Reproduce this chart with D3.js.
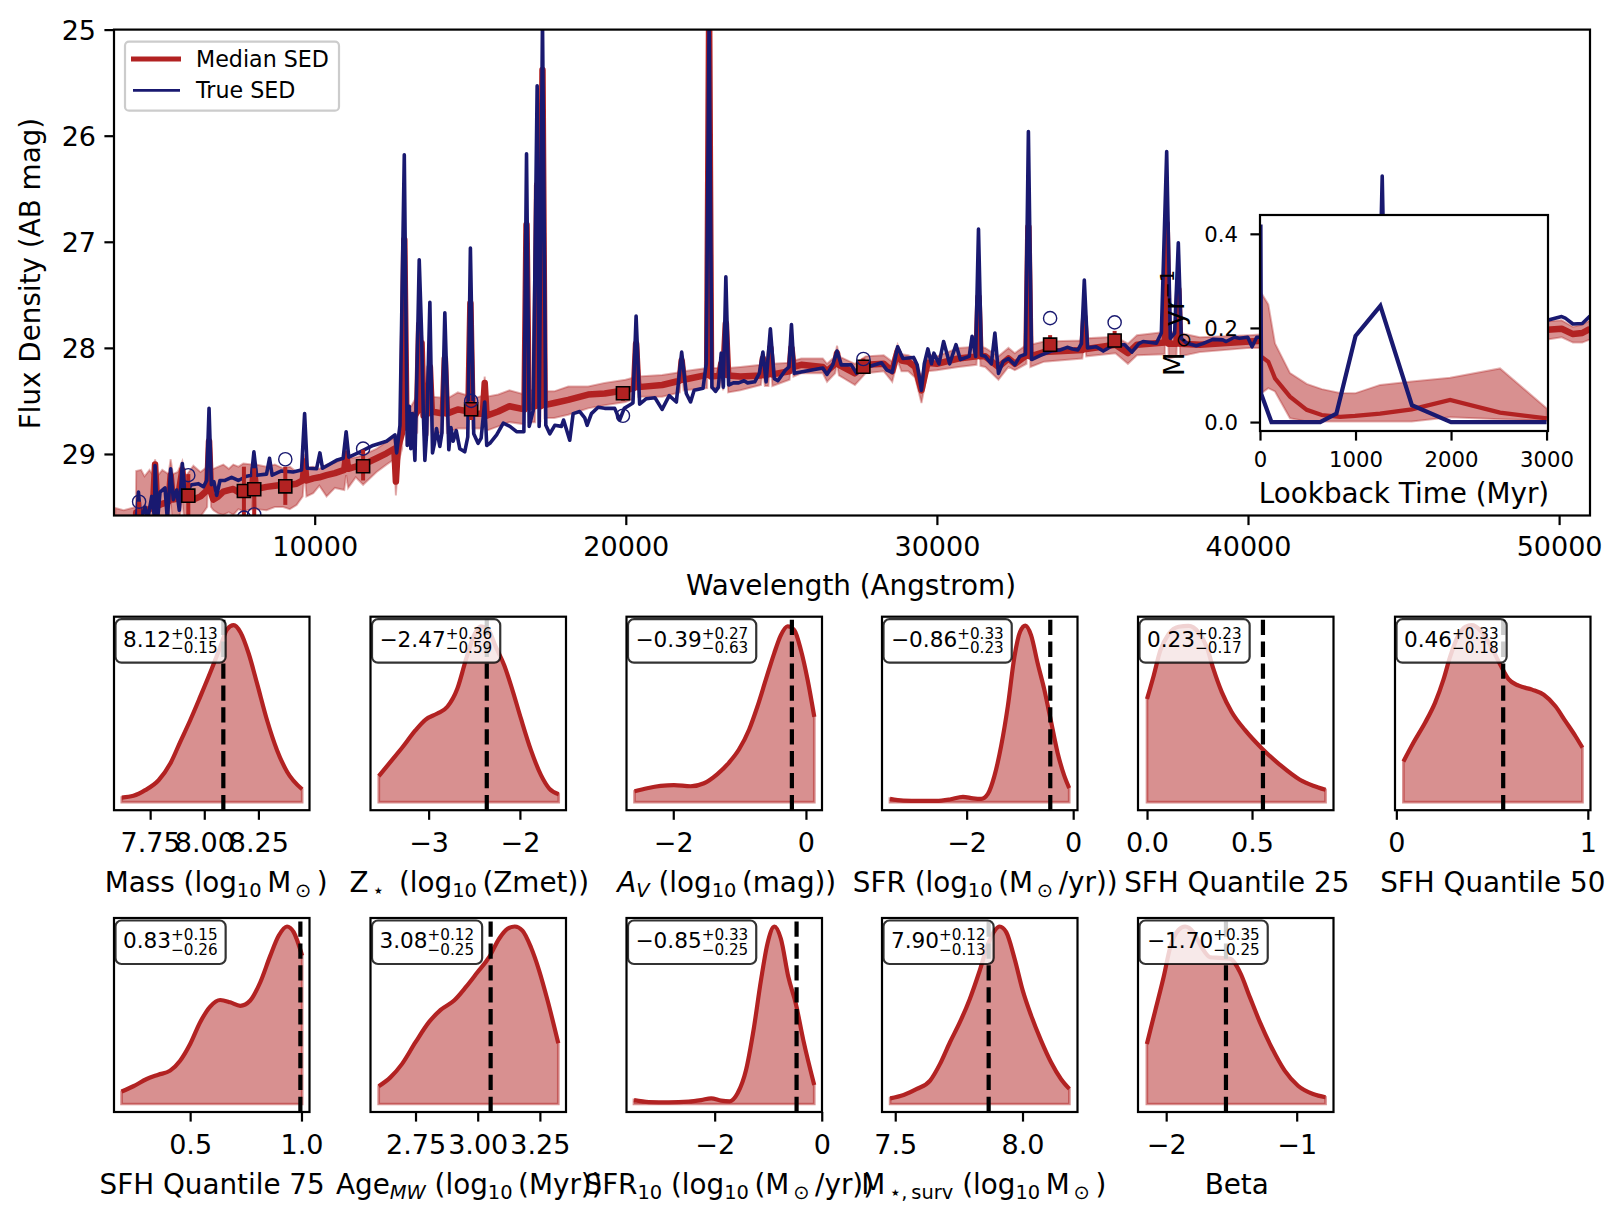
<!DOCTYPE html>
<html>
<head>
<meta charset="utf-8">
<title>SED fit</title>
<script src="https://cdn.jsdelivr.net/npm/d3@7"></script>
<style>
body { margin: 0; background: #fff; }
text { font-family: "DejaVu Sans", sans-serif; fill: #000; }
</style>
</head>
<body>
<div id="chart"></div>
<script>
// spectrum
var trueWave = [4260,4335,4410,4548,4630,4762,4850,4869,4950,5029,5189,5264,5371,5456,5563,5648,5745,5830,6044,6262,6422,6529,6604,6679,6760,6850,6956,7116,7330,7544,7811,7971,8046,8131,8452,8548,8633,8932,9306,9578,9676,9761,10060,10167,10252,10701,10915,11011,11096,11396,11876,12310,12580,12634,12741,12880,12976,13040,13090,13140,13222,13275,13360,13435,13490,13542,13600,13702,13787,13850,13916,14022,14090,14183,14311,14380,14450,14550,14663,14823,14920,15005,15112,15251,15350,15465,15530,15630,15848,16062,16275,16489,16724,16809,16895,17023,17151,17215,17322,17429,17557,17717,17931,18000,18198,18307,18521,18681,18756,18895,19109,19322,19643,19803,19950,20230,20331,20445,20651,20938,21167,21396,21625,21796,21945,22082,22197,22483,22586,22678,22769,22884,22976,23067,23136,23216,23307,23457,23628,23800,23915,24144,24292,24407,24510,24647,24773,24888,25130,25245,25325,25416,25760,26332,26469,26653,26790,26927,27248,27420,27592,27878,28221,28393,28565,28737,28908,29252,29366,29504,29595,29710,29824,29904,30066,30215,30410,30615,30753,31039,31131,31246,31337,31429,31555,31750,31864,31979,32128,32300,32505,32666,32848,32941,33043,33330,33673,33959,34188,34360,34532,34646,34738,34841,35118,35347,35691,36034,36264,36492,36627,37055,37215,37386,37503,37642,37760,37856,38037,38336,38550,38870,39191,39298,39564,39724,39991,40130,40280,40610,42000,44200,44314,44410,47000,49200,49623,50083,50200,50446,50745,50993];
var trueSED = [29.65,29.36,29.62,29.50,29.62,29.40,29.60,29.11,29.62,29.36,29.32,29.62,29.14,29.43,29.34,29.53,29.09,29.37,29.29,29.28,29.31,29.25,28.57,29.29,29.26,29.39,29.25,29.25,29.22,29.25,29.21,29.20,28.98,29.20,29.19,29.04,29.20,29.16,29.17,29.15,28.62,29.135,29.14,28.99,29.135,29.06,29.04,28.79,29.03,28.99,28.92,28.88,28.82,28.99,28.73,26.18,28.92,28.55,28.95,28.62,29.06,28.40,27.17,27.85,28.6,29.06,28.8,27.57,28.99,28.9,28.76,28.93,28.8,27.67,28.96,28.75,28.88,28.78,28.95,28.98,28.84,27.06,28.81,28.90,28.85,28.51,28.92,28.90,28.82,28.71,28.74,28.79,28.79,26.17,28.74,28.59,25.53,28.74,24.9,28.73,28.81,28.73,28.74,28.68,28.87,28.62,28.60,28.66,28.73,28.62,28.56,28.57,28.57,28.68,28.57,28.52,27.70,28.53,28.48,28.47,28.58,28.45,28.51,28.04,28.43,28.51,28.40,28.38,28.15,24.9,28.37,28.41,28.37,28.05,28.37,27.33,28.35,28.33,28.33,28.31,28.33,28.32,28.24,28.04,28.32,27.82,28.29,28.31,28.21,28.18,27.78,28.24,28.22,28.19,28.25,28.16,28.03,28.16,28.16,28.24,28.15,28.17,28.14,28.21,28.23,27.99,28.10,28.09,28.16,28.40,28.15,28.01,28.15,28.05,28.15,27.94,28.15,27.97,28.11,28.08,27.89,28.08,26.88,28.07,28.08,28.15,27.86,28.24,28.13,28.10,28.16,28.08,28.06,25.96,28.11,28.07,28.03,28.02,27.995,28.01,28.02,27.96,27.36,28.00,27.99,28.03,27.97,27.97,28.04,27.96,27.94,27.957,27.86,26.15,27.91,27.86,27.01,27.91,27.957,27.98,27.96,27.92,27.925,27.94,27.90,27.91,27.90,27.99,27.90,27.90,27.85,27.82,26.38,27.82,27.78,27.75,27.74,27.705,27.72,27.775,27.77,27.70];

var medWave = [3590,3860,4250,4262,4420,4530,4690,4800,4869,4940,5100,5300,5371,5440,5600,5745,5830,6100,6330,6545,6604,6665,6743,6900,7063,7240,7383,7550,7704,7985,8046,8115,8452,8720,8985,9200,9420,9615,9676,9735,9954,10150,10381,10650,10950,11011,11075,11320,11556,11990,12310,12560,12610,12670,12810,12880,12950,13100,13295,13360,13400,13435,13500,13640,13702,13765,14120,14183,14250,14600,14940,15005,15070,15405,15465,15525,15900,16260,16745,16809,16875,17085,17151,17255,17322,17390,17700,18150,18790,19322,19990,20265,20331,20400,21170,21735,21796,21860,22615,22678,22740,23005,23067,23130,23216,23290,23685,24345,24407,24470,24585,24647,24710,25265,25325,25390,25640,26332,26469,26730,26790,26850,27365,27706,28290,28565,28737,28860,29080,29300,29504,29700,29995,30690,31275,31337,31400,31555,31979,32300,32505,32880,32941,33005,33445,34675,34738,34800,35740,36140,36430,37325,37386,37450,37700,37760,37820,38450,40050,40610,45000,49623,50083,50446,50745,50993];
var medSED = [29.68,29.67,29.65,29.55,29.54,29.53,29.52,29.50,29.10,29.49,29.47,29.45,29.20,29.43,29.42,29.15,29.42,29.43,29.40,29.34,28.88,29.36,29.43,29.40,29.355,29.34,29.33,29.36,29.34,29.33,29.135,29.33,29.31,29.30,29.29,29.29,29.28,29.25,29.07,29.25,29.23,29.22,29.20,29.18,29.15,29.00,29.14,29.12,29.10,29.04,28.994,28.95,29.26,28.95,28.80,26.98,28.75,28.70,28.60,27.78,28.00,27.95,28.64,28.62,28.18,28.60,28.62,28.10,28.62,28.58,28.60,27.58,28.62,28.62,28.33,28.64,28.60,28.55,28.58,26.84,28.56,28.55,26.465,28.55,25.38,28.54,28.52,28.49,28.44,28.43,28.40,28.38,27.96,28.37,28.35,28.31,28.12,28.30,28.255,24.90,28.27,28.26,28.15,28.26,27.77,28.26,28.27,28.26,28.10,28.26,28.25,28.00,28.25,28.22,28.00,28.18,28.16,28.18,28.22,28.15,28.05,28.16,28.24,28.16,28.15,28.22,28.03,28.12,28.13,28.18,28.40,28.14,28.15,28.10,28.08,27.52,28.08,28.08,28.18,28.10,28.15,28.07,26.86,28.08,28.04,28.02,27.71,28.01,27.97,28.05,27.97,27.95,26.83,27.96,27.96,27.45,27.96,27.97,27.94,27.93,27.88,27.83,27.82,27.87,27.86,27.82];
var medBright = [29.51,29.53,29.50,29.16,29.15,29.21,29.15,29.20,29.05,29.21,29.15,29.19,29.05,29.19,29.17,29.07,29.22,29.11,29.17,29.12,28.85,29.15,29.14,29.12,29.10,29.14,29.10,29.12,29.09,29.10,29.09,29.10,29.12,29.10,29.135,29.12,29.17,29.12,29.00,29.13,29.12,29.14,29.10,29.08,29.04,28.90,29.04,29.03,29.01,28.95,28.884,28.85,29.18,28.82,28.70,26.90,28.60,28.55,28.45,27.70,27.90,27.85,28.48,28.46,28.10,28.46,28.47,28.00,28.48,28.42,28.45,27.50,28.48,28.45,28.27,28.46,28.44,28.40,28.44,26.78,28.40,28.40,26.40,28.40,25.30,28.41,28.41,28.365,28.365,28.33,28.30,28.28,27.90,28.27,28.255,28.23,28.05,28.22,28.19,24.80,28.19,28.19,28.10,28.19,27.70,28.19,28.18,28.16,28.03,28.16,28.16,27.90,28.15,28.14,27.90,28.12,28.10,28.10,28.15,28.08,27.98,28.08,28.15,28.08,28.07,28.13,27.97,28.06,28.07,28.10,28.27,28.06,28.08,28.00,27.99,27.42,27.99,28.00,28.08,28.00,28.05,27.97,26.76,27.97,27.94,27.93,27.55,27.91,27.895,27.96,27.88,27.85,26.70,27.85,27.85,27.35,27.86,27.90,27.88,27.87,27.80,27.75,27.74,27.80,27.78,27.74];
var medFaint = [29.84,29.81,29.75,29.75,29.75,29.75,29.75,29.75,29.40,29.75,29.73,29.72,29.45,29.72,29.70,29.45,29.70,29.72,29.59,29.50,28.92,29.50,29.53,29.56,29.575,29.55,29.575,29.52,29.54,29.52,29.20,29.52,29.53,29.50,29.50,29.52,29.48,29.40,29.15,29.40,29.37,29.30,29.40,29.32,29.34,29.20,29.32,29.22,29.29,29.17,29.10,29.05,29.39,29.10,28.95,27.10,28.90,28.85,28.80,27.95,28.15,28.10,28.82,28.82,28.30,28.80,28.80,28.20,28.80,28.76,28.76,27.70,28.76,28.76,28.50,28.78,28.74,28.70,28.72,26.95,28.70,28.70,26.60,28.70,25.50,28.66,28.66,28.63,28.57,28.54,28.51,28.48,28.05,28.46,28.46,28.42,28.20,28.40,28.38,25.00,28.38,28.38,28.30,28.40,27.90,28.42,28.40,28.35,28.20,28.36,28.36,28.10,28.36,28.30,28.10,28.27,28.24,28.24,28.32,28.24,28.15,28.26,28.35,28.24,28.22,28.32,28.12,28.22,28.22,28.28,28.52,28.22,28.21,28.18,28.16,27.70,28.17,28.18,28.30,28.18,28.21,28.15,27.00,28.18,28.13,28.10,27.93,28.08,28.05,28.15,28.07,28.06,27.00,28.10,28.08,27.60,28.08,28.04,28.00,28.00,27.97,27.92,27.90,27.95,27.95,27.92];

// photometry
var photWave = [4356,5937,7725,8056,9055,11556,15029,19909,27637,33639,35713];
var photMed = [29.75,29.393,29.349,29.333,29.305,29.116,28.579,28.428,28.178,27.97,27.93];
var photBright = [29.45,29.19,29.12,29.135,29.12,28.96,28.5,28.36,28.1,27.88,27.84];
var photFaint = [29.95,29.65,29.65,29.65,29.48,29.25,28.68,28.5,28.24,28.0,27.98];
var photTrue = [29.45,29.20,29.6,29.57,29.05,28.95,28.50,28.64,28.105,27.72,27.76];

var waveTicks = [10000,20000,30000,40000,50000];
var magTicks = [25,26,27,28,29];

// inset star formation history
var sfhTrueTime = [5,12,120,630,800,1000,1260,1590,2000,3000];
var sfhTrue = [0.42,0.06,0,0,0.018,0.183,0.247,0.036,0,0];
var sfhTime = [14,87,157,314,489,646,838,995,1257,1588,1990,2513,3002];
var sfhMedian = [0.139,0.128,0.093,0.054,0.026,0.015,0.011,0.013,0.018,0.027,0.047,0.02,0.008];
var sfhUpper = [0.274,0.25,0.167,0.104,0.081,0.07,0.062,0.061,0.079,0.086,0.094,0.114,0.029];
var sfhLower = [0.061,0.072,0.065,0.008,0.001,0.001,0.001,0.001,0.001,0.001,0.01,0.006,0.003];

// posteriors
var massX = [7.619,7.673,7.727,7.789,7.843,7.889,7.935,7.981,8.035,8.074,8.105,8.136,8.167,8.205,8.244,8.29,8.336,8.383,8.452];
var massY = [.026,.036,.068,.124,.218,.341,.463,.595,.755,.878,.976,1,.96,.84,.67,.463,.294,.171,.073];
var zmetX = [-3.546,-3.418,-3.289,-3.143,-3.033,-2.905,-2.795,-2.685,-2.593,-2.502,-2.429,-2.355,-2.264,-2.172,-2.081,-1.989,-1.879,-1.769,-1.678,-1.575];
var zmetY = [.147,.228,.309,.407,.467,.501,.539,.642,.802,.944,.994,.981,.877,.774,.632,.473,.294,.153,.077,.045];
var avX = [-2.584,-2.393,-2.191,-1.99,-1.738,-1.537,-1.335,-1.159,-1.008,-.856,-.73,-.605,-.479,-.378,-.277,-.176,-.076,.025,.126];
var avY = [.062,.079,.092,.097,.09,.107,.159,.224,.299,.411,.542,.692,.841,.944,.994,.972,.86,.692,.482];
var sfrX = [-3.439,-3.19,-2.879,-2.567,-2.318,-2.069,-1.882,-1.726,-1.601,-1.477,-1.352,-1.227,-1.103,-.997,-.897,-.791,-.667,-.542,-.417,-.293,-.168,-.075];
var sfrY = [.019,.009,.007,.007,.015,.03,.022,.019,.047,.15,.318,.542,.822,.963,.998,.944,.785,.636,.458,.28,.15,.08];
var q25X = [0,.032,.063,.103,.15,.198,.245,.285,.316,.356,.403,.467,.546,.633,.728,.791,.85];
var q25Y = [.583,.716,.856,.95,.991,.996,.96,.875,.753,.622,.51,.407,.305,.211,.127,.093,.07];
var q50X = [.037,.089,.15,.202,.246,.281,.325,.36,.394,.438,.49,.543,.586,.639,.709,.77,.831,.883,.935,.972];
var q50Y = [.23,.336,.449,.561,.692,.822,.944,.991,1,.972,.888,.776,.695,.658,.636,.607,.542,.458,.374,.308];
var q75X = [.192,.245,.305,.357,.41,.455,.5,.545,.59,.635,.68,.725,.77,.815,.86,.898,.935,.965,1.003];
var q75Y = [.07,.1,.141,.165,.188,.244,.338,.461,.549,.586,.573,.553,.583,.686,.836,.949,1,.968,.836];
var ageX = [2.602,2.649,2.696,2.75,2.804,2.851,2.905,2.952,2.999,3.046,3.086,3.12,3.149,3.18,3.214,3.247,3.281,3.324];
var ageY = [.1,.15,.226,.348,.461,.53,.583,.658,.742,.827,.931,.987,1,.977,.883,.752,.583,.342];
var sfr10X = [-3.507,-3.228,-2.856,-2.484,-2.251,-2.065,-1.879,-1.721,-1.572,-1.414,-1.274,-1.135,-1.014,-.884,-.763,-.623,-.484,-.344,-.14];
var sfr10Y = [.022,.011,.009,.013,.022,.032,.019,.015,.06,.191,.416,.697,.903,1,.931,.715,.565,.36,.107];
var survX = [7.48,7.533,7.585,7.637,7.676,7.715,7.754,7.793,7.832,7.865,7.891,7.91,7.936,7.969,8.001,8.034,8.073,8.112,8.151,8.184];
var survY = [.032,.051,.085,.132,.226,.348,.461,.592,.752,.902,.977,1,.968,.818,.639,.498,.357,.235,.141,.085];
var betaX = [-2.148,-2.084,-2.02,-1.969,-1.906,-1.855,-1.791,-1.728,-1.664,-1.588,-1.511,-1.435,-1.359,-1.282,-1.193,-1.092,-.99,-.875,-.779];
var betaY = [.338,.526,.714,.883,.98,1,.968,.883,.827,.823,.818,.743,.602,.461,.32,.188,.103,.056,.038];

var panelX = [massX, zmetX, avX, sfrX, q25X, q50X, q75X, ageX, sfr10X, survX, betaX];
var panelY = [massY, zmetY, avY, sfrY, q25Y, q50Y, q75Y, ageY, sfr10Y, survY, betaY];
var panelLo = [7.583,-3.637,-2.705,-3.589,-.043,-.007,.158,2.569,-3.647,7.448,-2.216];
var panelHi = [8.486,-1.495,.242,.081,.888,1.014,1.036,3.355,.005,8.216,-.718];
var truth = [8.088,-2.363,-.212,-.43,.552,.558,.995,3.052,-.47,7.867,-1.542];
var statMed = [8.12,-2.47,-.39,-.86,.23,.46,.83,3.08,-.85,7.90,-1.70];
var statUp = [.13,.36,.27,.33,.23,.33,.15,.12,.33,.12,.35];
var statDown = [.15,.59,.63,.23,.17,.18,.26,.25,.25,.13,.25];
var tickVals = [[7.75,8,8.25],[-3,-2],[-2,0],[-2,0],[0,.5],[0,1],[.5,1],[2.75,3,3.25],[-2,0],[7.5,8],[-2,-1]];
var tickText = [["7.75","8.00","8.25"],["\u22123","\u22122"],["\u22122","0"],["\u22122","0"],["0.0","0.5"],["0","1"],["0.5","1.0"],["2.75","3.00","3.25"],["\u22122","0"],["7.5","8.0"],["\u22122","\u22121"]];
var panelLabels = [
	["Mass (log", ["sub","10"], "\u2009M", ["sub","\u2009\u2299"], "\u2009)"],
	["Z", ["sub","\u2009\u22c6"], "\u2009 (log", ["sub","10"], "\u2009(Zmet))"],
	[["i","A"], ["subi","V"], " (log", ["sub","10"], "\u2009(mag))"],
	["SFR (log", ["sub","10"], "\u2009(M", ["sub","\u2009\u2299"], "\u2009/yr))"],
	["SFH Quantile 25"],
	["SFH Quantile 50"],
	["SFH Quantile 75"],
	["Age", ["subi","MW"], " (log", ["sub","10"], "\u2009(Myr))"],
	["SFR", ["sub","10"], " (log", ["sub","10"], "\u2009(M", ["sub","\u2009\u2299"], "\u2009/yr))"],
	["M", ["sub","\u2009\u22c6,\u2009surv"], " (log", ["sub","10"], "\u2009M", ["sub","\u2009\u2299"], "\u2009)"],
	["Beta"]
];
var labelShift = [4.5,1,2.5,5.5,1,0,.4,1,5,4,1];
var panelLeft = [114,370.5,626.5,882,1138,1395,114,370.5,626.5,882,1138];

var red = "#b22222", navy = "#191970";
var tickLen = 9.6, spine = 2.2;

var svg = d3.select("#chart").append("svg")
	.attr("width", 1623).attr("height", 1223)
	.style("display", "block");

// mixed text with sub and superscripts
function addLabel(sel, parts, size) {
	var shift = 0;
	parts.forEach(function(p) {
		var kind = typeof p == "string" ? "n" : p[0];
		var str = typeof p == "string" ? p : p[1];
		var s = sel.append("tspan").text(str);
		var want = 0;
		if (kind == "sub" || kind == "subi") want = size * 0.2;
		if (kind == "sup") want = -size * 0.36;
		s.attr("dy", want - shift);
		shift = want;
		s.style("font-size", (kind == "n" || kind == "i" ? size : size * 0.7) + "px");
		if (kind == "i" || kind == "subi") s.style("font-style", "italic");
	});
}

function drawAxis(g, axis, x, y, size, along, across) {
	var a = g.append("g").attr("transform", "translate(" + x + "," + y + ")").call(axis);
	a.select(".domain").remove();
	a.selectAll(".tick line").attr("stroke", "#000").attr("stroke-width", spine);
	a.selectAll(".tick text").style("font-size", size + "px").style("font-family", "DejaVu Sans")
		.attr("dy", 0);
	if (along == "x") a.selectAll(".tick text").attr("y", across);
	else a.selectAll(".tick text").attr("x", across).attr("dy", size * 0.365);
	return a;
}

function frame(g, x, y, w, h) {
	g.append("rect").attr("x", x).attr("y", y).attr("width", w).attr("height", h)
		.attr("fill", "none").attr("stroke", "#000").attr("stroke-width", spine);
}

function clip(id, x, y, w, h) {
	svg.append("clipPath").attr("id", id).append("rect")
		.attr("x", x).attr("y", y).attr("width", w).attr("height", h);
}

// main panel
var mainL = 114, mainR = 1590, mainT = 29.6, mainB = 515.5;
var xWave = d3.scaleLinear().domain([3549,50993]).range([mainL, mainR]);
var yMag = d3.scaleLinear().domain([25,29.58]).range([mainT, mainB]);
clip("clipMain", mainL, mainT, mainR - mainL, mainB - mainT);

var main = svg.append("g");
var spec = main.append("g").attr("clip-path", "url(#clipMain)");

var bandIdx = d3.range(medWave.length);
spec.append("path").datum(bandIdx)
	.attr("d", d3.area()
		.x(function(i) { return xWave(medWave[i]); })
		.y0(function(i) { return yMag(medFaint[i]); })
		.y1(function(i) { return yMag(medBright[i]); }))
	.attr("fill", red).attr("fill-opacity", 0.5)
	.attr("stroke", red).attr("stroke-opacity", 0.35).attr("stroke-width", 2);

spec.append("path").datum(bandIdx)
	.attr("d", d3.line()
		.x(function(i) { return xWave(medWave[i]); })
		.y(function(i) { return yMag(medSED[i]); }))
	.attr("fill", "none").attr("stroke", red).attr("stroke-width", 6.5).attr("stroke-linejoin", "round");

spec.append("path").datum(d3.range(trueWave.length))
	.attr("d", d3.line()
		.x(function(i) { return xWave(trueWave[i]); })
		.y(function(i) { return yMag(trueSED[i]); }))
	.attr("fill", "none").attr("stroke", navy).attr("stroke-width", 3.6).attr("stroke-linejoin", "round");

var phot = spec.selectAll("g.phot").data(d3.range(photWave.length)).enter().append("g").attr("class", "phot");
phot.append("line")
	.attr("x1", function(i) { return xWave(photWave[i]); })
	.attr("x2", function(i) { return xWave(photWave[i]); })
	.attr("y1", function(i) { return yMag(photBright[i]); })
	.attr("y2", function(i) { return yMag(photFaint[i]); })
	.attr("stroke", red).attr("stroke-width", 4);
phot.append("path")
	.attr("d", d3.symbol().type(d3.symbolSquare).size(170))
	.attr("transform", function(i) { return "translate(" + xWave(photWave[i]) + "," + yMag(photMed[i]) + ")"; })
	.attr("fill", red).attr("stroke", "#000").attr("stroke-width", 1.6);
phot.append("circle")
	.attr("cx", function(i) { return xWave(photWave[i]); })
	.attr("cy", function(i) { return yMag(photTrue[i]); })
	.attr("r", 6.6)
	.attr("fill", "none").attr("stroke", navy).attr("stroke-width", 1.4);

drawAxis(main, d3.axisBottom(xWave).tickValues(waveTicks).tickFormat(d3.format("d")).tickSize(tickLen).tickSizeOuter(0),
	0, mainB, 27, "x", 40);
drawAxis(main, d3.axisLeft(yMag).tickValues(magTicks).tickFormat(d3.format("d")).tickSize(tickLen).tickSizeOuter(0),
	mainL, 0, 27, "y", -18);
frame(main, mainL, mainT, mainR - mainL, mainB - mainT);

main.append("text").attr("x", (mainL + mainR) / 2 - 1).attr("y", 595).attr("text-anchor", "middle")
	.style("font-size", "27.8px").text("Wavelength (Angstrom)");
main.append("text").attr("transform", "translate(39.5," + ((mainT + mainB) / 2 + 1) + ") rotate(-90)").attr("text-anchor", "middle")
	.style("font-size", "27.8px").text("Flux Density (AB mag)");

// legend
var leg = main.append("g");
leg.append("rect").attr("x", 125).attr("y", 41.7).attr("width", 214).attr("height", 69).attr("rx", 4)
	.attr("fill", "#fff").attr("fill-opacity", 0.8).attr("stroke", "#ccc").attr("stroke-width", 2.2);
leg.append("line").attr("x1", 131).attr("x2", 181).attr("y1", 59).attr("y2", 59)
	.attr("stroke", red).attr("stroke-width", 5);
leg.append("line").attr("x1", 133).attr("x2", 180).attr("y1", 90.3).attr("y2", 90.3)
	.attr("stroke", navy).attr("stroke-width", 2.8);
leg.append("text").attr("x", 196).attr("y", 66.7).style("font-size", "22.2px").text("Median SED");
leg.append("text").attr("x", 196).attr("y", 97.7).style("font-size", "22.2px").text("True SED");

// inset
var insL = 1260, insR = 1548, insT = 215, insB = 431;
var xTime = d3.scaleLinear().domain([0,3015]).range([insL, insR]);
var ySfr = d3.scaleLinear().domain([-0.019,0.44]).range([insB, insT]);
clip("clipInset", insL, insT, insR - insL, insB - insT);

var inset = svg.append("g");
inset.append("rect").attr("x", insL).attr("y", insT).attr("width", insR - insL).attr("height", insB - insT).attr("fill", "#fff");
var sfh = inset.append("g").attr("clip-path", "url(#clipInset)");
var sfhIdx = d3.range(sfhTime.length);
sfh.append("path").datum(sfhIdx)
	.attr("d", d3.area()
		.x(function(i) { return xTime(sfhTime[i]); })
		.y0(function(i) { return ySfr(sfhLower[i]); })
		.y1(function(i) { return ySfr(sfhUpper[i]); }))
	.attr("fill", red).attr("fill-opacity", 0.5)
	.attr("stroke", red).attr("stroke-opacity", 0.35).attr("stroke-width", 2);
sfh.append("path").datum(sfhIdx)
	.attr("d", d3.line()
		.x(function(i) { return xTime(sfhTime[i]); })
		.y(function(i) { return ySfr(sfhMedian[i]); }))
	.attr("fill", "none").attr("stroke", red).attr("stroke-width", 4.2);
sfh.append("path").datum(d3.range(sfhTrueTime.length))
	.attr("d", d3.line()
		.x(function(i) { return xTime(sfhTrueTime[i]); })
		.y(function(i) { return ySfr(sfhTrue[i]); }))
	.attr("fill", "none").attr("stroke", navy).attr("stroke-width", 4.2);

drawAxis(inset, d3.axisBottom(xTime).tickValues([0,1000,2000,3000]).tickFormat(d3.format("d")).tickSize(tickLen).tickSizeOuter(0),
	0, insB, 21.2, "x", 36);
drawAxis(inset, d3.axisLeft(ySfr).tickValues([0,0.2,0.4]).tickFormat(d3.format(".1f")).tickSize(tickLen).tickSizeOuter(0),
	insL, 0, 21.2, "y", -22);
frame(inset, insL, insT, insR - insL, insB - insT);
inset.append("text").attr("x", (insL + insR) / 2).attr("y", 503).attr("text-anchor", "middle")
	.style("font-size", "27.8px").text("Lookback Time (Myr)");
var insetY = inset.append("text").attr("transform", "translate(1184,323) rotate(-90)").attr("text-anchor", "middle");
addLabel(insetY, ["M", ["sub","\u2009\u2299"], "\u2009yr", ["sup","\u22121"]], 27.8);

// posterior panels
var pw = 195.5;
var fmt = d3.format(".2f");

panelX.forEach(function(xs, k) {
	var row = k < 6 ? 0 : 1;
	var top = row == 0 ? 616.7 : 918;
	var ph = row == 0 ? 193.5 : 194;
	var bot = top + ph;
	var left = panelLeft[k];
	var g = svg.append("g");
	var x = d3.scaleLinear().domain([panelLo[k], panelHi[k]]).range([left, left + pw]);
	var y = d3.scaleLinear().domain([0, 1]).range([bot - 8, top + 8.5]);
	var idx = d3.range(xs.length);
	var ys = panelY[k];

	g.append("path").datum(idx)
		.attr("d", d3.area().curve(d3.curveMonotoneX)
			.x(function(i) { return x(xs[i]); })
			.y0(y(0))
			.y1(function(i) { return y(ys[i]); }))
		.attr("fill", red).attr("fill-opacity", 0.5)
		.attr("stroke", red).attr("stroke-opacity", 0.5).attr("stroke-width", 2.7);
	g.append("path").datum(idx)
		.attr("d", d3.line().curve(d3.curveMonotoneX)
			.x(function(i) { return x(xs[i]); })
			.y(function(i) { return y(ys[i]); }))
		.attr("fill", "none").attr("stroke", red).attr("stroke-width", 4.2);
	g.append("line")
		.attr("x1", x(truth[k])).attr("x2", x(truth[k]))
		.attr("y1", bot).attr("y2", top)
		.attr("stroke", "#000").attr("stroke-width", 4.2).attr("stroke-dasharray", "15.3,6.6");

	// value box
	var box = g.append("rect").attr("x", left + 1.5).attr("y", top + 2.5).attr("height", 43.5).attr("rx", 6)
		.attr("fill", "#fff").attr("fill-opacity", 0.8)
		.attr("stroke", "#000").attr("stroke-opacity", 0.8).attr("stroke-width", 2.2);
	var tx = left + 9;
	var val = g.append("text").attr("x", tx).attr("y", top + 30).style("font-size", "21.6px").text(fmt(statMed[k]));
	var wMain = val.node().getComputedTextLength();
	var sup = g.append("text").attr("x", tx + wMain).attr("y", top + 22.3).style("font-size", "15.2px").text("+" + fmt(statUp[k]));
	var sub = g.append("text").attr("x", tx + wMain).attr("y", top + 36.6).style("font-size", "15.2px").text("\u2212" + fmt(statDown[k]));
	var wExp = Math.max(sup.node().getComputedTextLength(), sub.node().getComputedTextLength());
	box.attr("width", tx + wMain + wExp + 8 - (left + 1.5));

	drawAxis(g, d3.axisBottom(x).tickValues(tickVals[k])
		.tickFormat(function(d, i) { return tickText[k][i]; })
		.tickSize(tickLen).tickSizeOuter(0), 0, bot, 27, "x", 41.7);
	frame(g, left, top, pw, ph);

	var lab = g.append("text").attr("x", left + pw / 2 + labelShift[k]).attr("y", bot + (row == 0 ? 81.5 : 81.5)).attr("text-anchor", "middle");
	addLabel(lab, panelLabels[k], 27.8);
});
</script>
</body>
</html>
